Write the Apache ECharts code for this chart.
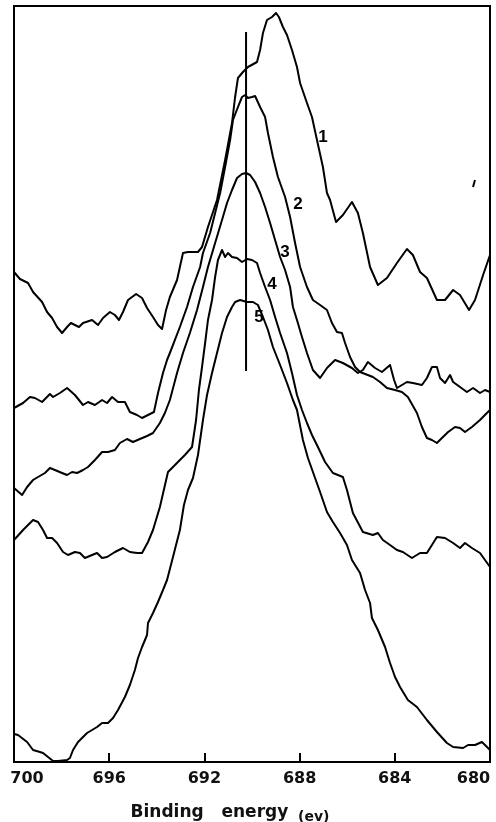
<!DOCTYPE html>
<html>
<head>
<meta charset="utf-8">
<script src="https://cdn.jsdelivr.net/npm/echarts@6/dist/echarts.min.js"></script>
<style>
  html, body { margin: 0; padding: 0; background: #fff; }
  #chart { width: 496px; height: 822px; }
</style>
</head>
<body>
<div id="chart"></div>
<script>
// Binding energy axis (eV), drawn high-to-low
const energyRange = [680, 700];
const energyStep = 4;
// Intensity in arbitrary units
const intensityRange = [0, 756];

// Spectra: [binding energy (eV), intensity (a.u.)]
const spectrum1 = [
  [700.00,490],[699.75,483],[699.41,479],[699.20,470],[698.82,460],[698.61,450],[698.40,444],[698.19,435],
  [697.98,429],[697.77,435],[697.61,439],[697.44,437],[697.27,435],[697.10,439],[696.72,442],[696.47,437],
  [696.26,444],[695.97,450],[695.76,447],[695.59,442],[695.42,450],[695.21,462],[694.87,468],[694.62,464],
  [694.41,454],[694.16,445],[693.95,437],[693.78,433],[693.61,452],[693.45,465],[693.15,482],[692.90,509],
  [692.69,510],[692.27,510],[692.10,515],[691.85,535],[691.47,562],[691.13,602],[690.84,639],[690.71,665],
  [690.59,684],[690.38,690],[690.17,695],[689.79,700],[689.66,712],[689.54,729],[689.37,742],[689.16,745],
  [688.99,749],[688.87,745],[688.70,735],[688.53,727],[688.32,712],[688.11,695],[687.98,679],[687.69,659],
  [687.48,645],[687.27,622],[687.02,595],[686.85,569],[686.72,562],[686.47,540],[686.18,547],[685.80,560],
  [685.55,549],[685.34,529],[685.04,495],[684.71,477],[684.33,484],[683.91,499],[683.49,513],[683.24,507],
  [682.94,490],[682.65,484],[682.23,462],[681.89,462],[681.55,472],[681.26,467],[680.88,452],[680.63,462],
  [680.29,487],[680.00,507]
];
const spectrum2 = [
  [700.00,354],[699.62,359],[699.33,365],[699.12,364],[698.82,360],[698.49,368],[698.36,365],[698.07,369],
  [697.77,374],[697.44,367],[697.10,357],[696.89,360],[696.60,357],[696.30,362],[696.09,359],[695.88,365],
  [695.63,360],[695.34,360],[695.13,350],[694.83,347],[694.62,344],[694.37,347],[694.12,350],[693.95,369],
  [693.74,389],[693.57,402],[693.45,409],[693.03,435],[692.73,455],[692.48,475],[692.18,495],[692.06,509],
  [691.76,529],[691.55,549],[691.34,569],[691.13,595],[690.92,622],[690.80,642],[690.59,655],[690.42,665],
  [690.29,667],[690.17,664],[690.00,665],[689.87,666],[689.79,664],[689.66,655],[689.45,645],[689.33,629],
  [689.12,605],[688.91,585],[688.61,565],[688.40,545],[688.19,519],[687.98,495],[687.69,475],[687.44,462],
  [687.14,457],[686.85,452],[686.64,439],[686.43,430],[686.22,429],[686.09,419],[685.88,405],[685.67,395],
  [685.46,390],[684.92,385],[684.62,380],[684.33,374],[683.99,372],[683.70,370],[683.45,365],[683.07,349],
  [682.86,335],[682.65,324],[682.44,322],[682.23,319],[682.02,324],[681.76,330],[681.47,335],[681.26,334],
  [681.05,330],[680.76,335],[680.42,342],[680.13,349],[680.00,352]
];
const spectrum3 = [
  [700.00,274],[699.66,267],[699.45,275],[699.20,282],[698.99,285],[698.70,289],[698.49,294],[698.28,292],
  [697.98,289],[697.77,287],[697.56,290],[697.35,289],[697.10,292],[696.89,295],[696.60,302],[696.30,310],
  [696.05,310],[695.76,312],[695.55,319],[695.25,323],[695.00,320],[694.71,323],[694.41,326],[694.16,329],
  [693.87,339],[693.66,349],[693.45,362],[693.15,389],[692.90,409],[692.61,429],[692.31,452],[692.06,475],
  [691.85,495],[691.55,519],[691.26,542],[691.05,559],[690.84,572],[690.63,584],[690.42,588],[690.25,589],
  [690.08,587],[689.87,580],[689.66,569],[689.45,555],[689.24,539],[689.03,522],[688.82,505],[688.61,492],
  [688.40,475],[688.28,455],[688.11,442],[687.90,425],[687.69,409],[687.44,392],[687.14,384],[686.85,394],
  [686.51,402],[686.18,399],[685.80,394],[685.55,389],[685.34,392],[685.13,400],[684.83,394],[684.54,390],
  [684.20,397],[684.03,382],[683.91,374],[683.49,380],[683.24,379],[682.86,377],[682.65,384],[682.44,395],
  [682.23,395],[682.10,384],[681.89,379],[681.68,387],[681.55,380],[681.26,375],[680.97,370],[680.71,374],
  [680.42,369],[680.21,372],[680.00,370]
];
const spectrum4 = [
  [700.00,222],[699.62,232],[699.20,242],[698.99,240],[698.78,232],[698.61,224],[698.40,224],[698.19,219],
  [697.94,210],[697.73,207],[697.44,210],[697.23,209],[697.02,204],[696.72,207],[696.51,209],[696.30,204],
  [696.09,205],[695.76,210],[695.42,214],[695.13,210],[694.83,209],[694.62,209],[694.37,220],[694.16,232],
  [693.87,255],[693.53,290],[693.32,295],[692.82,307],[692.52,315],[692.35,342],[692.23,372],[692.10,395],
  [691.97,419],[691.85,442],[691.68,462],[691.55,485],[691.43,502],[691.26,512],[691.13,505],[691.01,509],
  [690.84,505],[690.63,504],[690.42,500],[690.21,503],[690.00,502],[689.79,499],[689.66,489],[689.45,475],
  [689.24,462],[689.03,445],[688.82,429],[688.53,409],[688.32,389],[688.11,367],[687.90,352],[687.69,339],
  [687.48,327],[687.23,315],[686.93,300],[686.60,289],[686.18,285],[686.01,272],[685.76,249],[685.34,230],
  [684.92,227],[684.71,229],[684.50,222],[684.20,217],[683.91,212],[683.66,210],[683.28,204],[682.94,209],
  [682.65,209],[682.23,225],[681.89,224],[681.55,219],[681.26,214],[681.05,219],[680.76,214],[680.42,209],
  [680.21,202],[680.00,195]
];
const spectrum5 = [
  [700.00,28],[699.83,27],[699.45,20],[699.20,12],[698.91,10],[698.78,9],[698.57,5],[698.36,1],
  [698.15,1],[697.77,2],[697.65,4],[697.52,12],[697.31,20],[696.93,29],[696.51,35],[696.30,39],
  [696.05,39],[695.84,44],[695.63,52],[695.34,65],[695.13,77],[694.92,92],[694.79,104],[694.62,115],
  [694.41,127],[694.37,139],[694.16,149],[693.95,160],[693.74,172],[693.57,182],[693.32,205],[693.03,232],
  [692.86,257],[692.69,272],[692.48,284],[692.27,307],[692.06,342],[691.89,367],[691.68,389],[691.47,409],
  [691.26,429],[691.05,445],[690.84,455],[690.71,460],[690.50,462],[690.21,460],[689.96,460],[689.75,457],
  [689.54,445],[689.33,432],[689.12,415],[688.82,397],[688.53,379],[688.28,362],[688.11,352],[687.86,322],
  [687.65,304],[687.44,290],[687.14,270],[686.85,250],[686.60,240],[686.30,229],[686.01,217],[685.80,202],
  [685.46,189],[685.25,172],[685.04,159],[684.96,144],[684.71,132],[684.41,115],[684.20,99],[683.99,85],
  [683.78,75],[683.45,62],[683.07,55],[682.65,42],[682.23,30],[681.81,19],[681.55,15],[681.13,14],
  [680.92,17],[680.63,17],[680.34,20],[680.21,17],[680.00,12]
];

// Reference position of the peak (eV) and the span of the marker line (a.u.)
const peakMarkerEnergy = 690.25;
const peakMarkerSpan = [391, 730];

// Curve numbers and where they are written
const curveNames = ['1', '2', '3', '4', '5'];
const curveNameAnchors = [
  [687.02, 625], [688.07, 558], [688.61, 510], [689.16, 478], [689.71, 445]
];

const spectra = [spectrum1, spectrum2, spectrum3, spectrum4, spectrum5];

const chart = echarts.init(document.getElementById('chart'), null, { renderer: 'canvas' });

const lineSeries = spectra.map((data, i) => ({
  name: 'Spectrum ' + curveNames[i],
  type: 'line',
  data: data,
  symbol: 'none',
  showSymbol: false,
  smooth: false,
  clip: false,
  lineStyle: { color: '#000', width: 2, join: 'round' },
  z: 3
}));

const tickFont = { fontFamily: 'DejaVu Sans', fontWeight: 'bold', fontSize: 16, color: '#111' };

chart.setOption({
  animation: false,
  backgroundColor: '#fff',
  grid: {
    left: 14, right: 6, top: 6, bottom: 60,
    containLabel: false,
    outerBoundsMode: 'none',
    show: true, borderColor: '#000', borderWidth: 2, backgroundColor: 'transparent'
  },
  xAxis: {
    type: 'value',
    min: energyRange[0],
    max: energyRange[1],
    interval: energyStep,
    inverse: true,
    axisLine: { show: true, onZero: false, lineStyle: { color: '#000', width: 2 } },
    axisTick: { show: true, inside: true, length: 9, lineStyle: { color: '#000', width: 2 } },
    splitLine: { show: false },
    axisLabel: {
      margin: 9,
      // end labels sit inside the frame edges
      formatter: function (v) {
        if (v === energyRange[1]) return '{first|' + v + '}';
        if (v === energyRange[0]) return '{last|' + v + '}';
        return '{mid|' + v + '}';
      },
      rich: {
        mid: Object.assign({}, tickFont),
        first: Object.assign({ padding: [0, 0, 0, 26] }, tickFont),
        last: Object.assign({ padding: [0, 33, 0, 0] }, tickFont)
      }
    },
    name: '{a|Binding   energy}{b|  (ev)}',
    nameLocation: 'middle',
    nameGap: 40,
    nameTextStyle: {
      padding: [0, 44, 0, 0],
      rich: {
        a: { fontFamily: 'DejaVu Sans', fontWeight: 'bold', fontSize: 17, color: '#111', lineHeight: 22 },
        b: { fontFamily: 'DejaVu Sans', fontWeight: 'bold', fontSize: 14, color: '#111', lineHeight: 22, padding: [9, 0, 0, 0] }
      }
    }
  },
  yAxis: {
    type: 'value',
    min: intensityRange[0],
    max: intensityRange[1],
    show: false
  },
  graphic: [
    {
      type: 'line',
      shape: { x1: 473, y1: 187, x2: 475, y2: 180 },
      style: { stroke: '#000', lineWidth: 2 }
    }
  ],
  series: [
    ...lineSeries,
    {
      name: 'Peak marker',
      type: 'line',
      data: [[peakMarkerEnergy, peakMarkerSpan[0]], [peakMarkerEnergy, peakMarkerSpan[1]]],
      symbol: 'none',
      lineStyle: { color: '#000', width: 2 },
      z: 4
    },
    {
      name: 'Curve numbers',
      type: 'scatter',
      data: curveNameAnchors.map((p, i) => ({ value: p, name: curveNames[i] })),
      symbolSize: 1,
      itemStyle: { color: 'rgba(0,0,0,0)', opacity: 1 },
      label: {
        show: true,
        position: 'inside',
        formatter: '{b}',
        fontFamily: 'Liberation Sans',
        fontWeight: 'bold',
        fontSize: 17,
        color: '#000',
        opacity: 1
      },
      labelLayout: { hideOverlap: false },
      z: 5
    }
  ]
});
</script>
</body>
</html>
